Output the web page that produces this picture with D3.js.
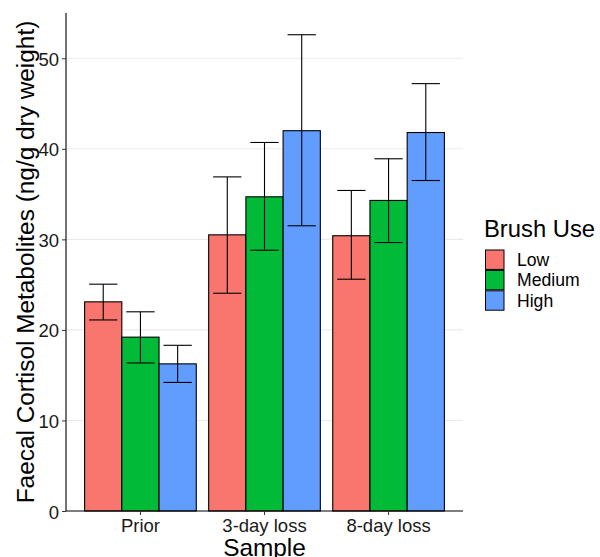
<!DOCTYPE html>
<html>
<head>
<meta charset="utf-8">
<script src="https://cdn.jsdelivr.net/npm/d3@7"></script>
<style>
  body { margin: 0; background: #fff; }
  svg text { font-family: "Liberation Sans", Arial, Helvetica, sans-serif; }
</style>
</head>
<body>
<svg id="chart" width="600" height="557"></svg>
<script>
// data
const samples = ['Prior', '3-day loss', '8-day loss'];
const brushUse = ['Low', 'Medium', 'High'];
const colours = ['#F8766D', '#00BA38', '#619CFF'];
const means = [
  [23.1, 19.2, 16.25],
  [30.5, 34.7, 42.0],
  [30.4, 34.3, 41.8]
];
const upper = [
  [25.05, 22.0, 18.3],
  [36.9, 40.7, 52.6],
  [35.4, 38.9, 47.2]
];
const lower = [
  [21.1, 16.35, 14.2],
  [24.05, 28.8, 31.5],
  [25.6, 29.65, 36.5]
];
const yTicks = [0, 10, 20, 30, 40, 50];

const rows = [];
samples.forEach((s, i) => {
  brushUse.forEach((b, j) => {
    rows.push({ sample: s, brush: b, mean: means[i][j], hi: upper[i][j], lo: lower[i][j], col: colours[j] });
  });
});

const svg = d3.select('#chart');
const pLeft = 66, pRight = 463, pTop = 13, pBottom = 511;

// scales
const y = d3.scaleLinear().domain([0, 55]).range([pBottom, pTop]);
// discrete axis: 0.6 units of expansion each side, bars 0.9 wide
const unit = (pRight - pLeft) / 3.2;
const x = d3.scaleBand().domain(samples)
  .range([pLeft + 0.1 * unit, pRight - 0.1 * unit])
  .paddingInner(0.1).paddingOuter(0.05);
const xSub = d3.scaleBand().domain(brushUse).range([0, x.bandwidth()]);

// grid
svg.append('g').selectAll('line')
  .data(yTicks.filter(d => d > 0))
  .enter().append('line')
  .attr('x1', pLeft).attr('x2', pRight)
  .attr('y1', d => y(d)).attr('y2', d => y(d))
  .attr('stroke', '#ebebeb').attr('stroke-width', 1.1);

// bars
svg.append('g').selectAll('rect')
  .data(rows)
  .enter().append('rect')
  .attr('x', d => x(d.sample) + xSub(d.brush))
  .attr('width', xSub.bandwidth())
  .attr('y', d => y(d.mean))
  .attr('height', d => y(0) - y(d.mean))
  .attr('fill', d => d.col)
  .attr('stroke', '#000').attr('stroke-width', 1.1);

// error bars
const capW = xSub.bandwidth() * 0.76;
const eb = svg.append('g').attr('stroke', '#000').attr('stroke-width', 1.1);
rows.forEach(d => {
  const cx = x(d.sample) + xSub(d.brush) + xSub.bandwidth() / 2;
  eb.append('line').attr('x1', cx).attr('x2', cx).attr('y1', y(d.hi)).attr('y2', y(d.lo));
  eb.append('line').attr('x1', cx - capW / 2).attr('x2', cx + capW / 2).attr('y1', y(d.hi)).attr('y2', y(d.hi));
  eb.append('line').attr('x1', cx - capW / 2).attr('x2', cx + capW / 2).attr('y1', y(d.lo)).attr('y2', y(d.lo));
});

// axes
const yAxis = svg.append('g').attr('transform', `translate(${pLeft},0)`)
  .call(d3.axisLeft(y).tickValues(yTicks).tickSize(4).tickPadding(3).tickSizeOuter(0));
yAxis.attr('font-size', null).attr('font-family', null);
yAxis.select('.domain').attr('d', `M0,${pTop}V${pBottom}`).attr('stroke', '#000').attr('stroke-width', 1.1);
yAxis.selectAll('.tick line').attr('stroke', '#333');
yAxis.selectAll('.tick text').attr('dy', '0.38em')
  .style('font-size', '18.5px').attr('fill', '#1a1a1a');

const xAxis = svg.append('g').attr('transform', `translate(0,${pBottom})`)
  .call(d3.axisBottom(x).tickSize(4).tickPadding(3.5).tickSizeOuter(0));
xAxis.attr('font-size', null).attr('font-family', null);
xAxis.select('.domain').attr('d', `M${pLeft},0H${pRight}`).attr('stroke', '#000').attr('stroke-width', 1.1);
xAxis.selectAll('.tick line').attr('stroke', '#333');
xAxis.selectAll('.tick text')
  .style('font-size', '18.5px').attr('fill', '#1a1a1a');

// axis titles
svg.append('text')
  .attr('transform', `translate(34,${(pTop + pBottom) / 2}) rotate(-90)`)
  .attr('text-anchor', 'middle')
  .style('font-size', '24.4px')
  .attr('fill', '#000')
  .text('Faecal Cortisol Metabolites (ng/g dry weight)');

svg.append('text')
  .attr('x', (pLeft + pRight) / 2).attr('y', 556)
  .attr('text-anchor', 'middle')
  .style('font-size', '24.4px')
  .attr('fill', '#000')
  .text('Sample');

// legend
const legend = svg.append('g').attr('transform', 'translate(484,0)');
legend.append('text').attr('x', 0).attr('y', 236.5)
  .style('font-size', '23.8px').attr('fill', '#000').text('Brush Use');
const keyH = 20.4;
brushUse.forEach((b, j) => {
  const ky = 249.5 + j * keyH;
  legend.append('rect')
    .attr('x', 1.5).attr('y', ky + 0.5)
    .attr('width', 18.5).attr('height', keyH - 1)
    .attr('fill', colours[j]).attr('stroke', '#000').attr('stroke-width', 1);
  legend.append('text').attr('x', 33).attr('y', ky + keyH / 2 + 6.3)
    .style('font-size', '17.6px').attr('fill', '#000').text(b);
});
</script>
</body>
</html>
